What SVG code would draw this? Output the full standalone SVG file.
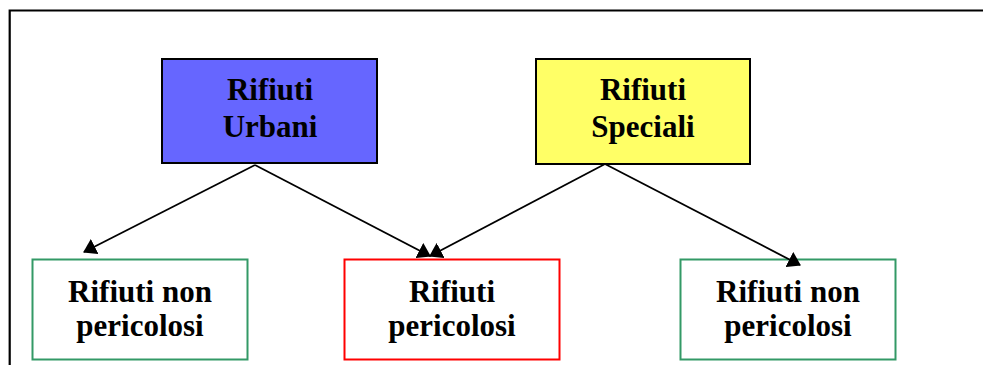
<svg xmlns="http://www.w3.org/2000/svg" width="983" height="365" viewBox="0 0 983 365">
<style>
.frame{fill:none;stroke:#000;stroke-width:2.2}
.box{stroke-width:2}
.c{stroke:#000;stroke-width:1.8;fill:none;marker-end:url(#ah)}
</style>
<defs>
<marker id="ah" viewBox="0 0 13 17" refX="12" refY="8.5" markerWidth="13" markerHeight="17" markerUnits="userSpaceOnUse" orient="auto">
<path d="M0,0 L13,8.5 L0,17 z" fill="#000"/>
</marker>
</defs>
<rect width="983" height="365" fill="#fff"/>
<path class="frame" d="M9.7,365 V10.5 H983"/>
<g font-family="'Liberation Serif','Times New Roman',serif" font-weight="bold" font-size="31" text-anchor="middle" fill="#000">
<g id="urbani">
<rect class="box" x="162" y="59" width="215" height="104" fill="#6666FF" stroke="#000" stroke-width="2.2"/>
<text x="270" y="100">Rifiuti</text>
<text x="270" y="137">Urbani</text>
</g>
<g id="speciali">
<rect class="box" x="536" y="59" width="214" height="105" fill="#FFFF66" stroke="#000" stroke-width="2.2"/>
<text x="643" y="100">Rifiuti</text>
<text x="643" y="137">Speciali</text>
</g>
<g id="nonpericolosi1">
<rect class="box" x="32.5" y="259.5" width="215" height="100" fill="#fff" stroke="#339966" stroke-width="3"/>
<text x="140" y="302">Rifiuti non</text>
<text x="140" y="336">pericolosi</text>
</g>
<g id="pericolosi">
<rect class="box" x="344.5" y="259.5" width="215" height="100" fill="#fff" stroke="#FF0000" stroke-width="3"/>
<text x="452" y="302">Rifiuti</text>
<text x="452" y="336">pericolosi</text>
</g>
<g id="nonpericolosi2">
<rect class="box" x="680.5" y="259.5" width="215" height="100" fill="#fff" stroke="#339966" stroke-width="3"/>
<text x="788" y="302">Rifiuti non</text>
<text x="788" y="336">pericolosi</text>
</g>
</g>
<g id="connectors">
<line class="c" x1="255" y1="165" x2="84" y2="252"/>
<line class="c" x1="255" y1="165" x2="430" y2="256"/>
<line class="c" x1="605" y1="164" x2="430" y2="256"/>
<line class="c" x1="605" y1="164" x2="800" y2="265"/>
</g>
</svg>
